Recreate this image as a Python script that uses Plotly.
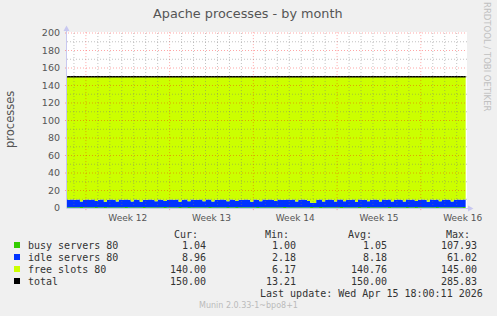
import plotly.graph_objects as go
import pandas as pd

# ---------------- data ----------------
times = pd.date_range("2026-03-13 06:00", "2026-04-15 18:00", freq="6h")

busy = [1.0, 1.0, 1.0,
        1.0, 1.0, 1.1, 1.0,  1.0, 1.0, 1.0, 1.1,  1.0, 1.0, 1.1, 1.0,  1.0, 1.0, 1.0, 1.0,
        1.0, 1.1, 1.0, 1.0,  1.0, 1.0, 1.0, 1.1,  1.0, 1.0, 1.0, 1.0,  1.0, 1.0, 1.1, 1.0,
        1.0, 1.0, 1.0, 1.1,  1.0, 1.0, 1.1, 1.0,  1.0, 1.0, 1.0, 1.0,  1.0, 1.1, 1.0, 1.0,
        1.0, 1.0, 1.0, 1.1,  1.0, 1.0, 1.1, 1.0,  1.0, 1.0, 1.0, 1.0,  1.0, 1.1, 1.0, 1.0,
        1.0, 1.0, 1.0, 1.0,  1.0, 1.0, 1.1, 1.0,  1.0, 1.0, 1.0, 1.0,  1.0, 1.0, 1.0, 1.1,
        1.0, 1.0, 1.1, 1.0,  1.0, 1.0, 1.0, 1.0,  1.0, 1.1, 1.0, 1.0,  1.0, 1.0, 1.0, 1.1,
        1.0, 1.0, 1.1, 1.0,  1.0, 1.0, 1.0, 1.0,  1.0, 1.1, 1.0, 1.0,  1.0, 1.0, 1.0, 1.1,
        1.0, 1.0, 1.1, 1.0,  1.0, 1.0, 1.0, 1.0,  1.0, 1.1, 1.0, 1.0,  1.0, 1.0, 1.0, 1.0,
        1.0, 1.0, 1.1, 3.0]

idle = [8.6, 8.4, 8.7,
        8.5, 8.6, 6.3, 8.5,  8.6, 8.4, 8.6, 6.8,  8.5, 8.7, 6.0, 8.4,  8.6, 8.5, 6.5, 8.6,
        8.4, 8.6, 8.5, 6.4,  8.7, 8.5, 6.2, 8.3,  8.5, 8.6, 8.4, 6.6,  8.6, 8.4, 6.9, 8.5,
        8.7, 8.5, 8.6, 6.1,  8.4, 8.6, 6.5, 8.7,  8.5, 8.4, 8.6, 6.7,  8.6, 8.5, 6.3, 8.5,
        8.4, 8.7, 8.5, 6.6,  8.6, 8.5, 6.8, 8.4,  8.5, 8.6, 8.5, 6.2,  8.7, 8.4, 6.6, 8.6,
        8.5, 8.6, 8.5, 6.9,  8.6, 8.5, 8.4, 8.6,  8.5, 8.7, 6.4, 8.5,  8.6, 8.4, 7.0, 5.0,
        4.8, 8.5, 8.6, 6.5,  8.4, 8.6, 8.5, 6.3,  8.6, 8.5, 6.6, 8.4,  8.5, 8.7, 6.2, 8.6,
        8.4, 8.5, 6.7, 8.5,  8.6, 8.4, 6.4, 8.6,  8.5, 8.6, 6.5, 8.4,  8.7, 8.5, 6.3, 8.6,
        8.4, 8.6, 6.8, 8.5,  8.6, 8.4, 6.2, 8.6,  8.5, 8.6, 6.6, 8.4,  8.6, 8.5, 6.4, 8.5,
        8.7, 8.4, 8.6, 10.0]

total_level = 150.0
total = [total_level] * len(times)
free = [t - b - i for t, b, i in zip(total, busy, idle)]

week_starts = ["2026-03-15", "2026-03-22", "2026-03-29", "2026-04-05", "2026-04-12"]
week_label_pos = ["2026-03-18 12:00", "2026-03-25 12:00", "2026-04-01 12:00",
                  "2026-04-08 12:00", "2026-04-15 12:00"]
week_labels = ["Week 12", "Week 13", "Week 14", "Week 15", "Week 16"]
day_lines = pd.date_range("2026-03-14", "2026-04-15", freq="D")
y_ticks = [0, 20, 40, 60, 80, 100, 120, 140, 160, 180, 200]

legend_names = ["busy servers 80", "idle servers 80", "free slots 80", "total"]
legend_colors = ["#33CC00", "#0033FF", "#CCFF00", "#000000"]
cur_vals = ["1.04", "8.96", "140.00", "150.00"]
min_vals = ["1.00", "2.18", "6.17", "13.21"]
avg_vals = ["1.05", "8.18", "140.76", "150.00"]
max_vals = ["107.93", "61.02", "145.00", "285.83"]

# ---------------- layout geometry ----------------
W, H = 497, 316
L, R, T, B = 67, 467, 32, 208
x_range = ["2026-03-13 10:05", "2026-04-15 20:41"]
y_range = [0, 176 / 0.875]


def px(x):
    return (x - L) / (R - L)


def py(y):
    return (B - y) / (B - T)


fig = go.Figure()
fig.add_trace(go.Scatter(x=times, y=busy, stackgroup="s", mode="none",
                         fillcolor="#33CC00", line_shape="hv", name="busy"))
fig.add_trace(go.Scatter(x=times, y=idle, stackgroup="s", mode="none",
                         fillcolor="#0033FF", line_shape="hv", name="idle"))
fig.add_trace(go.Scatter(x=times, y=free, stackgroup="s", mode="none",
                         fillcolor="#CCFF00", line_shape="hv", name="free"))
fig.add_trace(go.Scatter(x=times, y=total, mode="lines",
                         line=dict(color="#000000", width=1.5, shape="hv"), name="total"))

shapes = []
grid_gray = "rgba(120,120,120,0.45)"
grid_red = "rgba(255,0,0,0.35)"
week_ts = set(pd.to_datetime(week_starts))
for d in day_lines:
    if d in week_ts:
        continue
    shapes.append(dict(type="line", xref="x", yref="paper", x0=d, x1=d, y0=0, y1=1,
                       line=dict(color=grid_gray, width=1, dash="1px,2px"), layer="above"))
for d in week_starts:
    shapes.append(dict(type="line", xref="x", yref="paper", x0=d, x1=d, y0=-0.012, y1=1,
                       line=dict(color=grid_red, width=1, dash="1px,2px"), layer="above"))
for v in range(10, 200, 20):
    shapes.append(dict(type="line", xref="paper", yref="y", x0=0, x1=1, y0=v, y1=v,
                       line=dict(color=grid_gray, width=1, dash="1px,2px"), layer="above"))
for v in y_ticks[1:]:
    shapes.append(dict(type="line", xref="paper", yref="y", x0=-0.005, x1=1, y0=v, y1=v,
                       line=dict(color=grid_red, width=1, dash="1px,2px"), layer="above"))

axis_col = "#C8C8F0"
# axis lines + arrows
shapes.append(dict(type="line", xref="paper", yref="paper", x0=px(66.5), x1=px(66.5),
                   y0=py(208), y1=py(30), line=dict(color=axis_col, width=1), layer="above"))
shapes.append(dict(type="line", xref="paper", yref="paper", x0=px(66.5), x1=px(471),
                   y0=py(208.5), y1=py(208.5), line=dict(color=axis_col, width=1), layer="below"))
shapes.append(dict(type="path", xref="paper", yref="paper",
                   path=f"M {px(63.5)} {py(31)} L {px(69.5)} {py(31)} L {px(66.5)} {py(25.5)} Z",
                   fillcolor=axis_col, line=dict(width=0), layer="above"))
shapes.append(dict(type="path", xref="paper", yref="paper",
                   path=f"M {px(468)} {py(205.5)} L {px(468)} {py(211.5)} L {px(473.5)} {py(208.5)} Z",
                   fillcolor=axis_col, line=dict(width=0), layer="above"))

# legend squares
rows_y = [245.3, 257.3, 269.3, 281.3]
for c, yy in zip(legend_colors, rows_y):
    shapes.append(dict(type="rect", xref="paper", yref="paper",
                       x0=px(14), x1=px(20), y0=py(yy + 2.7), y1=py(yy - 3.3),
                       fillcolor=c, line=dict(width=0)))

ann = []
sans = "DejaVu Sans"
mono = "DejaVu Sans Mono"
ann.append(dict(text="Apache processes - by month", x=px(248), y=py(13), xref="paper", yref="paper",
                showarrow=False, xanchor="center", yanchor="middle",
                font=dict(family=sans, size=12.8, color="#555555")))
ann.append(dict(text="processes", x=px(10), y=py(120), xref="paper", yref="paper",
                showarrow=False, xanchor="center", yanchor="middle", textangle=-90,
                font=dict(family=sans, size=11.5, color="#555555")))
ann.append(dict(text="RRDTOOL / TOBI OETIKER", x=px(487), y=py(57), xref="paper", yref="paper",
                showarrow=False, xanchor="center", yanchor="middle", textangle=90,
                font=dict(family=sans, size=8.5, color="#C0C0C0")))

headers = [("Cur:", 198.5), ("Min:", 289.5), ("Avg:", 372.5), ("Max:", 470.5)]
for h, xr in headers:
    ann.append(dict(text=h, x=px(xr), y=py(234), xref="paper", yref="paper", showarrow=False,
                    xanchor="right", yanchor="middle", font=dict(family=mono, size=10, color="#333333")))

col_right = [206.5, 297, 387.5, 477.5]
for i, yy in enumerate(rows_y):
    ann.append(dict(text=legend_names[i], x=px(26.5), y=py(yy), xref="paper", yref="paper",
                    showarrow=False, xanchor="left", yanchor="middle",
                    font=dict(family=mono, size=10, color="#333333")))
    for vals, xr in zip([cur_vals, min_vals, avg_vals, max_vals], col_right):
        ann.append(dict(text=vals[i], x=px(xr), y=py(yy), xref="paper", yref="paper",
                        showarrow=False, xanchor="right", yanchor="middle",
                        font=dict(family=mono, size=10, color="#333333")))

ann.append(dict(text="Last update: Wed Apr 15 18:00:11 2026", x=px(483.5), y=py(293.5),
                xref="paper", yref="paper", showarrow=False, xanchor="right", yanchor="middle",
                font=dict(family=mono, size=10, color="#333333")))
ann.append(dict(text="Munin 2.0.33-1~bpo8+1", x=px(248), y=py(305.5),
                xref="paper", yref="paper", showarrow=False, xanchor="center", yanchor="middle",
                font=dict(family=sans, size=8, color="#BBBBBB")))

for a in ann:
    a["borderpad"] = 0

fig.update_layout(
    width=W, height=H,
    margin=dict(l=L, r=W - R, t=T, b=H - B, pad=0),
    paper_bgcolor="#F0F0F0", plot_bgcolor="#FFFFFF",
    showlegend=False,
    shapes=shapes, annotations=ann,
    xaxis=dict(type="date", range=x_range, tickvals=week_label_pos, ticktext=week_labels,
               showgrid=False, zeroline=False, showline=False, ticks="",
               tickfont=dict(family=sans, size=9, color="#555555"), ticklabelstandoff=3),
    yaxis=dict(range=y_range, tickvals=y_ticks, showgrid=False, zeroline=False, showline=False,
               ticks="", tickfont=dict(family=sans, size=9.5, color="#555555"),
               ticklabelstandoff=6),
)

fig.write_html("out.html")
